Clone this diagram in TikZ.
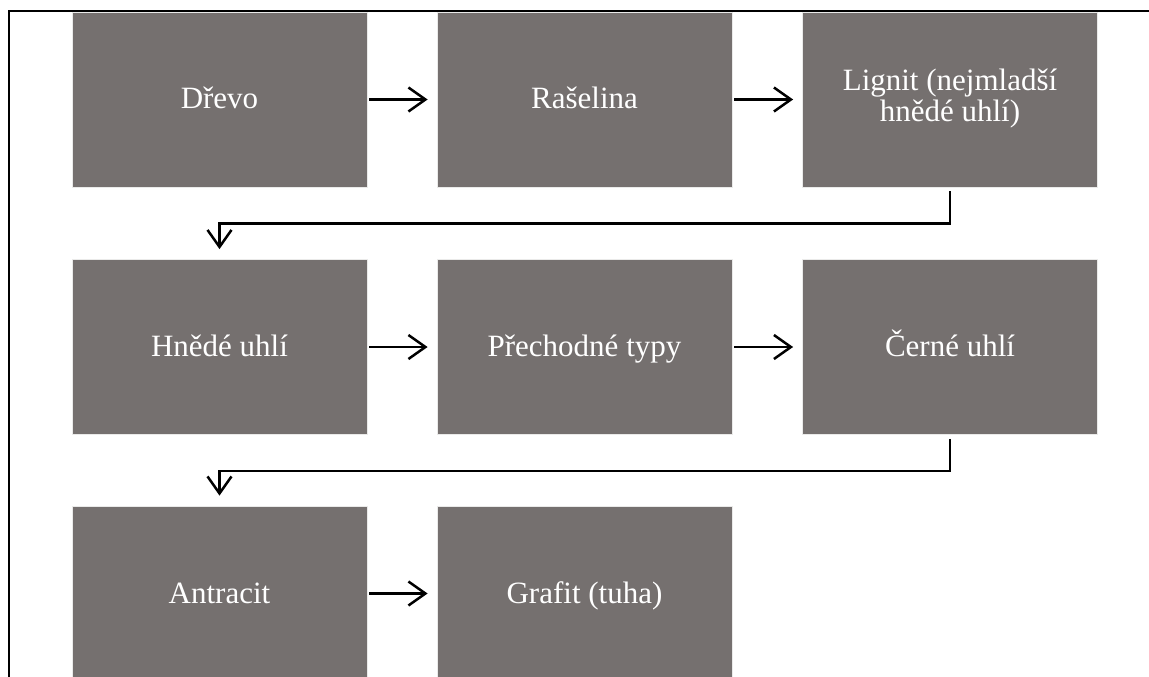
\documentclass[tikz,border=0pt]{standalone}
\usepackage{fontspec}
\setmainfont{Liberation Serif}
\usetikzlibrary{positioning,arrows.meta}
\definecolor{boxgray}{HTML}{75706F}

\tikzset{
  stage/.style={draw=white!85!boxgray, line width=0.8pt, fill=boxgray, text=white,
    minimum width=295pt, minimum height=175pt, inner sep=0pt, align=center,
    font=\fontsize{31}{31.5}\selectfont},
  oneline/.style={stage, text height=24pt, text depth=5pt},
  arr/.style={-{Straight Barb[length=17pt,width=24pt,line width=2.5pt]}, line width=2.5pt,
    shorten <=2pt, shorten >=9pt},
  elbowarr/.style={-{Straight Barb[length=17pt,width=24pt,line width=2.5pt]}, line width=2.5pt,
    shorten <=4pt, shorten >=10pt}
}

\begin{document}
\begin{tikzpicture}[x=1pt,y=-1pt]
\useasboundingbox (0,0) rectangle (1149,677);
\begin{scope}
\clip (0,0) rectangle (1149,677);
% first row
\node[oneline] (drevo) at (219.5,99.5) {Dřevo};
\node[oneline] (raselina) at (584.5,99.5) {Rašelina};
\node[stage] (lignit) at (950,99.5) {\raisebox{-6pt}{\begin{tabular}{@{}c@{}}Lignit (nejmladší\\hnědé uhlí)\end{tabular}}};
% second row
\node[oneline] (hnede) at (219.5,347) {Hnědé uhlí};
\node[oneline] (prechod) at (584.5,347) {Přechodné typy};
\node[oneline] (cerne) at (950,347) {Černé uhlí};
% third row
\node[oneline] (antracit) at (219.5,593.5) {Antracit};
\node[oneline] (grafit) at (584.5,593.5) {Grafit (tuha)};
\end{scope}

\draw[arr] (drevo) -- (raselina);
\draw[arr] (raselina) -- (lignit);
\draw[arr] (hnede) -- (prechod);
\draw[arr] (prechod) -- (cerne);
\draw[arr] (antracit) -- (grafit);
\draw[elbowarr] (lignit.south) -- ++(0,36) -| (hnede.north);
\draw[elbowarr] (cerne.south) -- ++(0,36) -| (antracit.north);

% frame
\draw[line width=2pt] (8.5,677) -- (8.5,11) -- (1149,11);
\end{tikzpicture}
\end{document}
